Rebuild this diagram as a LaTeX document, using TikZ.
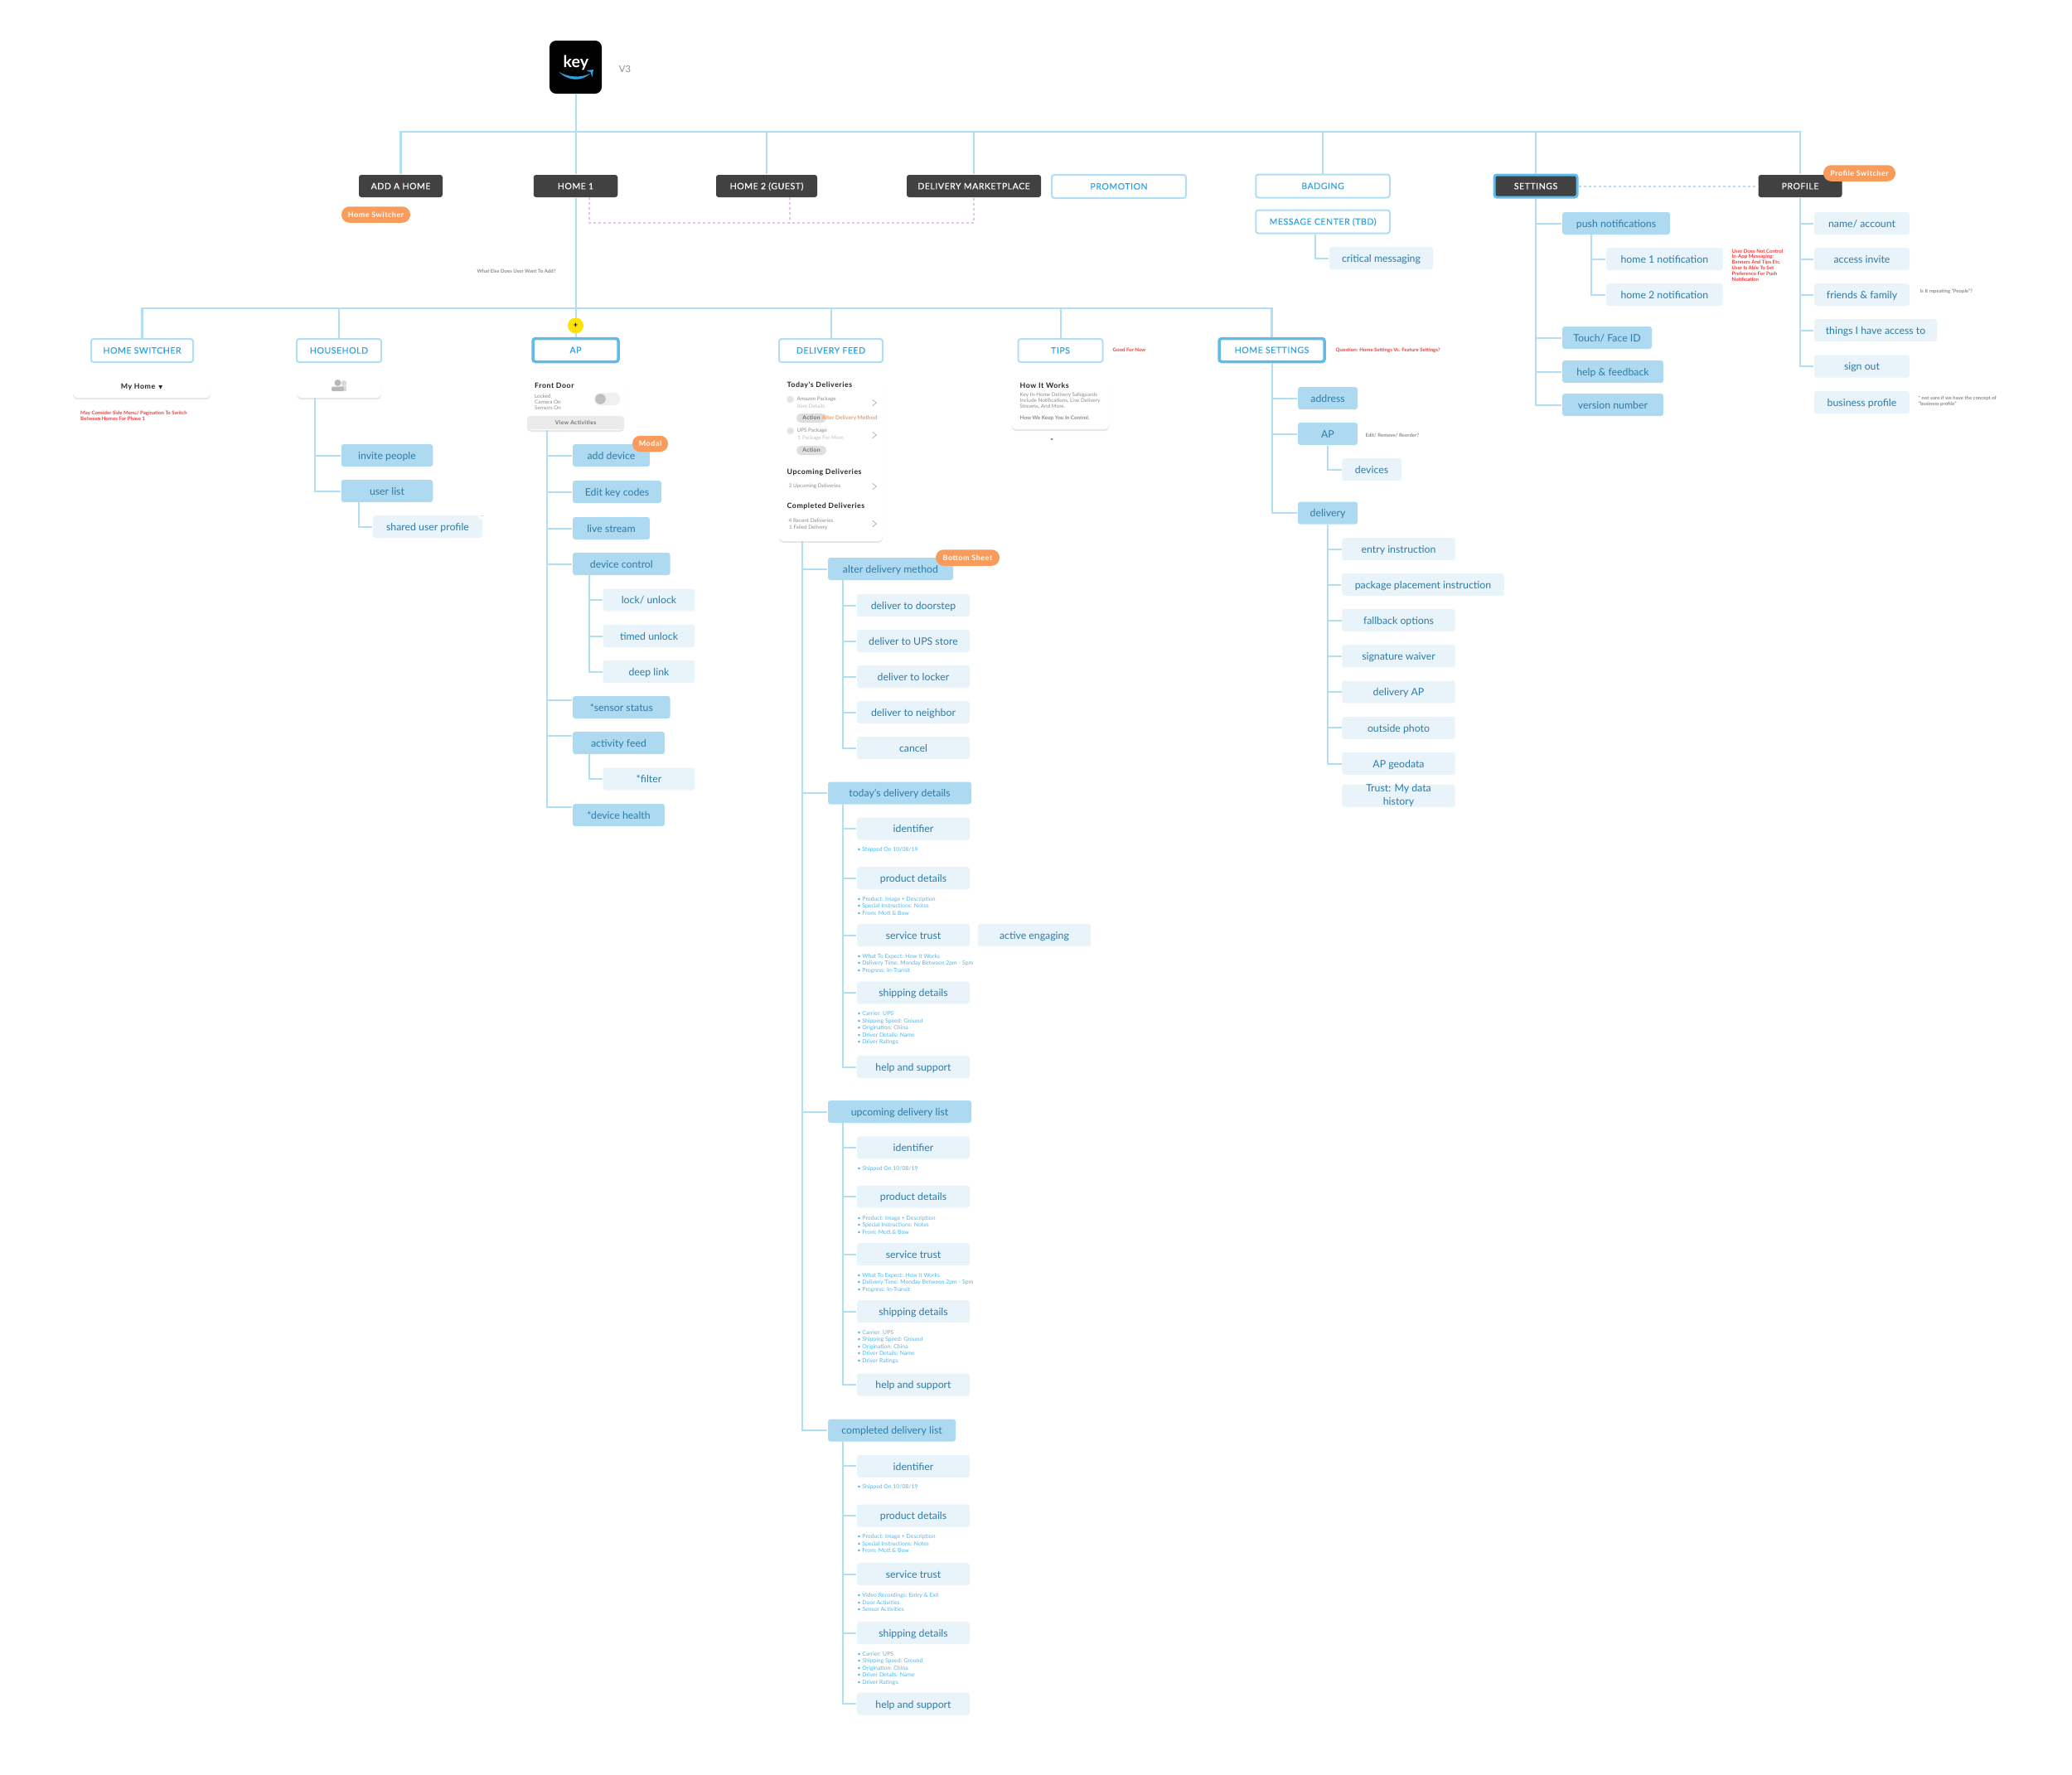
\documentclass[tikz,border=0pt]{standalone}
\usepackage{fontspec}
\usepackage{xcolor}
\setmainfont{Lato}
\newfontfamily\capfont[LetterSpace=5,FakeBold=0.25]{Lato}
\newfontfamily\headfont[LetterSpace=6]{Lato}
\usetikzlibrary{shapes,arrows,positioning,fit,calc,shapes.geometric,shadows}
\definecolor{darkgrey}{HTML}{414141}
\definecolor{midblue}{HTML}{AEDAF1}
\definecolor{paleblue}{HTML}{E8F3FA}
\definecolor{linkblue}{HTML}{B2DEF4}
\definecolor{selblue}{HTML}{62BAE6}
\definecolor{labelblue}{HTML}{2F7BA6}
\definecolor{capblue}{HTML}{2FA3E0}
\definecolor{bulletblue}{HTML}{4DB6EC}
\definecolor{pillorange}{HTML}{F89C5E}
\definecolor{notered}{HTML}{F83A3A}
\definecolor{notegrey}{HTML}{8C8C8C}
\definecolor{linkpurple}{HTML}{E5C3EC}

\begin{document}
\begin{tikzpicture}[
    wd/.style={minimum width=#1cm},
    darkbox/.style={rectangle, fill=darkgrey, text=white, rounded corners=0.03cm, minimum height=0.27cm, inner sep=0pt, text height=2.2pt, text depth=0pt, font=\capfont\fontsize{3}{3.6}\selectfont},
    outbox/.style={rectangle, draw=linkblue, line width=0.02cm, fill=white, text=capblue, rounded corners=0.03cm, minimum height=0.28cm, inner sep=0pt, text height=2.1pt, text depth=0pt, font=\capfont\fontsize{3}{3.6}\selectfont},
    selbox/.style={outbox, draw=selblue, line width=0.035cm},
    midbox/.style={rectangle, fill=midblue, text=labelblue, rounded corners=0.03cm, minimum height=0.27cm, inner sep=0pt, text height=3pt, text depth=0.2pt, font=\fontsize{3.5}{4.2}\selectfont},
    palebox/.style={midbox, fill=paleblue},
    pill/.style={rectangle, fill=pillorange, text=white, rounded corners=0.095cm, minimum height=0.195cm, inner sep=0pt, text height=1.7pt, text depth=0pt, font=\headfont\bfseries\fontsize{2.55}{3}\selectfont},
    card/.style={rectangle, fill=white, rounded corners=0.05cm, inner sep=0pt, drop shadow={shadow xshift=0cm, shadow yshift=-0.02cm, opacity=0.1, fill=black}},
    cardhead/.style={anchor=west, inner sep=0pt, text=black!85, font=\headfont\bfseries\fontsize{2.5}{3}\selectfont},
    cardtext/.style={anchor=west, inner sep=0pt, align=left, text=notegrey, font=\fontsize{1.8}{2}\selectfont},
    cardfaint/.style={cardtext, text=black!25},
    actionpill/.style={rectangle, fill=black!13, text=black!55, rounded corners=0.05cm, minimum width=0.36cm, minimum height=0.11cm, inner sep=0pt, font=\headfont\bfseries\fontsize{1.9}{2.2}\selectfont},
    dotgrey/.style={circle, fill=black!10, minimum size=0.085cm, inner sep=0pt},
    chevron/.style={draw=black!25, line width=0.01cm},
    bullets/.style={anchor=west, inner sep=0pt, align=left, text=bulletblue, font=\fontsize{1.95}{2.42}\selectfont},
    rednote/.style={anchor=west, inner sep=0pt, align=left, text=notered, font=\bfseries\fontsize{1.73}{1.95}\selectfont},
    greynote/.style={anchor=west, inner sep=0pt, align=left, text=notegrey, font=\bfseries\fontsize{1.7}{1.95}\selectfont},
    conn/.style={draw=linkblue, line width=0.02cm},
    busline/.style={conn, line width=0.025cm},
    linkdash/.style={draw=linkpurple, line width=0.018cm, dash pattern=on 0.03cm off 0.03cm},
    settingsdash/.style={draw=linkblue, line width=0.02cm, dash pattern=on 0.03cm off 0.03cm}
]
\useasboundingbox (0,0) rectangle (25,-21.41);

% App icon
\node[rectangle, fill=black, rounded corners=0.08cm, minimum width=0.63cm, minimum height=0.64cm, inner sep=0pt] (appicon) at (6.945,-0.81) {};
\node[text=white, inner sep=0pt, font=\bfseries\fontsize{5.6}{6}\selectfont] (appname) at (6.95,-0.755) {key};
\fill[capblue] (6.74,-0.865) .. controls (6.86,-0.985) and (7.02,-0.985) .. (7.125,-0.885) .. controls (7.02,-0.94) and (6.86,-0.94) .. cycle;
\fill[capblue] (7.07,-0.85) -- (7.16,-0.84) -- (7.145,-0.93) -- (7.125,-0.87) -- cycle;
\node[text=notegrey, inner sep=0pt, font=\fontsize{3.2}{3.6}\selectfont] (version) at (7.54,-0.83) {V3};

% Top row
\node[darkbox, wd=1.01] (addhome) at (4.835,-2.245) {ADD A HOME};
\node[darkbox, wd=1.015] (homeone) at (6.945,-2.245) {HOME 1};
\node[darkbox, wd=1.22] (hometwo) at (9.25,-2.245) {HOME 2 (GUEST)};
\node[darkbox, wd=1.62] (marketplace) at (11.75,-2.245) {DELIVERY MARKETPLACE};
\node[outbox, wd=1.62] (promotion) at (13.5,-2.25) {PROMOTION};
\node[outbox, wd=1.615] (badging) at (15.96,-2.245) {BADGING};
\node[outbox, wd=1.615] (messagecenter) at (15.96,-2.675) {MESSAGE CENTER (TBD)};
\node[palebox, wd=1.25] (critical) at (16.665,-3.115) {critical messaging};
\node[darkbox, wd=1.0, draw=selblue, line width=0.03cm] (settings) at (18.53,-2.245) {SETTINGS};
\node[darkbox, wd=1.01] (profile) at (21.72,-2.245) {PROFILE};
\node[greynote] (addnote) at (5.75,-3.27) {What Else Does User Want To Add?};

% Settings
\node[midbox, wd=1.30] (push) at (19.5,-2.695) {push notifications};
\node[palebox, wd=1.406] (homeonenotif) at (20.083,-3.125) {home 1 notification};
\node[palebox, wd=1.406] (hometwonotif) at (20.083,-3.555) {home 2 notification};
\node[midbox, wd=1.08] (touchid) at (19.39,-4.075) {Touch/ Face ID};
\node[midbox, wd=1.22] (feedback) at (19.46,-4.485) {help \& feedback};
\node[midbox, wd=1.22] (versionnum) at (19.46,-4.885) {version number};
\node[rednote] (pushnote) at (20.89,-3.20) {User Does Not Control\\In-App Messaging:\\Banners And Tips Etc.\\User Is Able To Set\\Preference For Push\\Notification};

% Profile
\node[palebox, wd=1.15] (account) at (22.465,-2.695) {name/ account};
\node[palebox, wd=1.15] (invite) at (22.465,-3.125) {access invite};
\node[palebox, wd=1.15] (family) at (22.465,-3.555) {friends \& family};
\node[palebox, wd=1.48] (things) at (22.63,-3.985) {things I have access to};
\node[palebox, wd=1.15] (signout) at (22.465,-4.42) {sign out};
\node[palebox, wd=1.15] (business) at (22.465,-4.855) {business profile};
\node[greynote] (familynote) at (23.16,-3.52) {Is It repeating "People"?};
\node[greynote] (businessnote) at (23.14,-4.84) {* not sure if we have the concept of\\"business profile"};

% Second row
\node[outbox, wd=1.23] (homeswitcher) at (1.715,-4.23) {HOME SWITCHER};
\node[outbox, wd=1.02] (household) at (4.09,-4.23) {HOUSEHOLD};
\node[selbox, wd=1.03] (apbox) at (6.945,-4.225) {AP};
\node[outbox, wd=1.25] (deliveryfeed) at (10.025,-4.23) {DELIVERY FEED};
\node[outbox, wd=1.02] (tips) at (12.795,-4.23) {TIPS};
\node[selbox, wd=1.27] (homesettings) at (15.345,-4.225) {HOME SETTINGS};
\node[rednote] (tipsnote) at (13.42,-4.225) {Good For Now};
\node[rednote] (settingsnote) at (16.11,-4.225) {Question: Home Settings Vs. Feature Settings?};

% Home switcher
\node[card, minimum width=1.66cm, minimum height=0.26cm, font=\headfont\bfseries\fontsize{2.5}{3}\selectfont, text=black!85] (myhome) at (1.71,-4.67) {My Home \,{\fontspec{DejaVu Sans}\fontsize{1.8}{2}\selectfont ▼}};
\node[rednote] (switchnote) at (0.965,-5.015) {May Consider Side Menu/ Pagination To Switch\\Between Homes For Phase 1};

% Household
\node[card, minimum width=1.02cm, minimum height=0.26cm] (householdcard) at (4.09,-4.67) {};
\fill[black!15] (4.15,-4.625) circle (0.035);
\fill[black!15] (4.10,-4.72) rectangle (4.18,-4.655);
\fill[black!28] (4.075,-4.62) circle (0.04);
\fill[black!28, rounded corners=0.015cm] (4.00,-4.72) rectangle (4.15,-4.665);
\node[midbox, wd=1.105] (inviteppl) at (4.67,-5.495) {invite people};
\node[midbox, wd=1.105] (userlist) at (4.67,-5.925) {user list};
\node[palebox, wd=1.32] (sharedprofile) at (5.16,-6.355) {shared user profile};
\node[circle, fill=white, minimum size=0.1cm, inner sep=0pt, text=notegrey, font=\fontsize{1.6}{1.8}\selectfont] (sharedmore) at (5.82,-6.23) {...};

% AP
\node[card, minimum width=1.17cm, minimum height=0.64cm] (apcard) at (6.945,-4.87) {};
\node[rectangle, fill=black!8, rounded corners=0.04cm, minimum width=1.17cm, minimum height=0.16cm, inner sep=0pt, text=black!55, font=\headfont\bfseries\fontsize{1.9}{2.2}\selectfont] (apfooter) at (6.945,-5.10) {View Activities};
\node[cardhead] (frontdoor) at (6.445,-4.65) {Front Door};
\node[cardtext] (aptext) at (6.445,-4.85) {Locked\\Camera On\\Sensors On};
\node[rectangle, fill=black!6, rounded corners=0.07cm, minimum width=0.31cm, minimum height=0.15cm, inner sep=0pt] (toggle) at (7.325,-4.815) {};
\node[circle, fill=black!25, minimum size=0.125cm, inner sep=0pt] (toggleknob) at (7.245,-4.815) {};
\node[midbox, wd=0.93] (adddevice) at (7.375,-5.495) {add device};
\node[midbox, wd=1.07] (keycodes) at (7.445,-5.935) {Edit key codes};
\node[midbox, wd=0.93] (livestream) at (7.375,-6.375) {live stream};
\node[midbox, wd=1.177] (devicecontrol) at (7.4985,-6.805) {device control};
\node[palebox, wd=1.106] (lockunlock) at (7.83,-7.24) {lock/ unlock};
\node[palebox, wd=1.106] (timedunlock) at (7.83,-7.675) {timed unlock};
\node[palebox, wd=1.106] (deeplink) at (7.83,-8.105) {deep link};
\node[midbox, wd=1.177] (sensorstatus) at (7.4985,-8.535) {*sensor status};
\node[midbox, wd=1.11] (activityfeed) at (7.465,-8.965) {activity feed};
\node[palebox, wd=1.106] (filter) at (7.83,-9.40) {*filter};
\node[midbox, wd=1.11] (devicehealth) at (7.465,-9.835) {*device health};

% Delivery feed card
\node[card, minimum width=1.25cm, minimum height=1.99cm] (feedcard) at (10.025,-5.535) {};
\node[cardhead] (todayhead) at (9.49,-4.65) {Today's Deliveries};
\node[dotgrey] (amazondot) at (9.535,-4.82) {};
\node[cardtext] (amazontext) at (9.61,-4.815) {Amazon Package};
\node[cardfaint] (itemtext) at (9.61,-4.90) {Item Details};
\node[actionpill] (actionone) at (9.79,-5.045) {Action};
\node[anchor=west, inner sep=0pt, text=pillorange, font=\bfseries\fontsize{1.9}{2.2}\selectfont] (alternote) at (9.91,-5.045) {Alter Delivery Method};
\node[dotgrey] (upsdot) at (9.535,-5.20) {};
\node[cardtext] (upstext) at (9.61,-5.20) {UPS Package};
\node[cardfaint] (momtext) at (9.62,-5.29) {1 Package For Mom};
\node[actionpill] (actiontwo) at (9.79,-5.435) {Action};
\node[cardhead] (upcominghead) at (9.49,-5.70) {Upcoming Deliveries};
\node[cardtext] (upcomingtext) at (9.51,-5.87) {3 Upcoming Deliveries};
\node[cardhead] (completedhead) at (9.49,-6.11) {Completed Deliveries};
\node[cardtext] (recenttext) at (9.51,-6.28) {4 Recent Deliveries};
\node[cardtext] (failedtext) at (9.515,-6.37) {1 Failed Delivery};
\draw[chevron] (10.527,-4.823) -- ++(0.046,-0.037) -- ++(-0.046,-0.037);
\draw[chevron] (10.527,-5.213) -- ++(0.046,-0.037) -- ++(-0.046,-0.037);
\draw[chevron] (10.527,-5.833) -- ++(0.046,-0.037) -- ++(-0.046,-0.037);
\draw[chevron] (10.527,-6.283) -- ++(0.046,-0.037) -- ++(-0.046,-0.037);

% Alter delivery method
\node[midbox, wd=1.51] (alter) at (10.745,-6.865) {alter delivery method};
\node[palebox, wd=1.36] (doorstep) at (11.02,-7.305) {deliver to doorstep};
\node[palebox, wd=1.36] (upsstore) at (11.02,-7.735) {deliver to UPS store};
\node[palebox, wd=1.36] (locker) at (11.02,-8.165) {deliver to locker};
\node[palebox, wd=1.36] (neighbor) at (11.02,-8.595) {deliver to neighbor};
\node[palebox, wd=1.36] (cancel) at (11.02,-9.025) {cancel};

% Today's delivery details
\node[midbox, wd=1.73] (today) at (10.855,-9.57) {today's delivery details};
\node[palebox, wd=1.36] (todayid) at (11.02,-10.00) {identifier};
\node[bullets] (todayidnote) at (10.34,-10.257) {• Shipped On 10/08/19};
\node[palebox, wd=1.36] (todayproduct) at (11.02,-10.597) {product details};
\node[bullets] (todayproductnote) at (10.34,-10.933) {• Product: Image + Description\\• Special Instructions: Notes\\• From: Mott \& Bow};
\node[palebox, wd=1.36] (todaytrust) at (11.02,-11.287) {service trust};
\node[palebox, wd=1.363] (activeengaging) at (12.48,-11.287) {active engaging};
\node[bullets] (todaytrustnote) at (10.34,-11.63) {• What To Expect: How It Works\\• Delivery Time: Monday Between 2pm - 5pm\\• Progress: In-Transit};
\node[palebox, wd=1.36] (todayship) at (11.02,-11.98) {shipping details};
\node[bullets] (todayshipnote) at (10.34,-12.41) {• Carrier: UPS\\• Shipping Speed: Ground\\• Origination: China\\• Driver Details: Name\\• Driver Ratings:};
\node[palebox, wd=1.36] (todayhelp) at (11.02,-12.875) {help and support};

% Upcoming delivery list
\node[midbox, wd=1.73] (upcoming) at (10.855,-13.415) {upcoming delivery list};
\node[palebox, wd=1.36] (upcomingid) at (11.02,-13.848) {identifier};
\node[bullets] (upcomingidnote) at (10.34,-14.103) {• Shipped On 10/08/19};
\node[palebox, wd=1.36] (upcomingproduct) at (11.02,-14.44) {product details};
\node[bullets] (upcomingproductnote) at (10.34,-14.78) {• Product: Image + Description\\• Special Instructions: Notes\\• From: Mott \& Bow};
\node[palebox, wd=1.36] (upcomingtrust) at (11.02,-15.137) {service trust};
\node[bullets] (upcomingtrustnote) at (10.34,-15.477) {• What To Expect: How It Works\\• Delivery Time: Monday Between 2pm - 5pm\\• Progress: In-Transit};
\node[palebox, wd=1.36] (upcomingship) at (11.02,-15.827) {shipping details};
\node[bullets] (upcomingshipnote) at (10.34,-16.253) {• Carrier: UPS\\• Shipping Speed: Ground\\• Origination: China\\• Driver Details: Name\\• Driver Ratings:};
\node[palebox, wd=1.36] (upcominghelp) at (11.02,-16.71) {help and support};

% Completed delivery list
\node[midbox, wd=1.54] (completed) at (10.76,-17.26) {completed delivery list};
\node[palebox, wd=1.36] (completedid) at (11.02,-17.693) {identifier};
\node[bullets] (completedidnote) at (10.34,-17.948) {• Shipped On 10/08/19};
\node[palebox, wd=1.36] (completedproduct) at (11.02,-18.29) {product details};
\node[bullets] (completedproductnote) at (10.34,-18.627) {• Product: Image + Description\\• Special Instructions: Notes\\• From: Mott \& Bow};
\node[palebox, wd=1.36] (completedtrust) at (11.02,-18.997) {service trust};
\node[bullets] (completedtrustnote) at (10.34,-19.337) {• Video Recordings: Entry \& Exit\\• Door Activities\\• Sensor Activities};
\node[palebox, wd=1.36] (completedship) at (11.02,-19.707) {shipping details};
\node[bullets] (completedshipnote) at (10.34,-20.133) {• Carrier: UPS\\• Shipping Speed: Ground\\• Origination: China\\• Driver Details: Name\\• Driver Ratings:};
\node[palebox, wd=1.36] (completedhelp) at (11.02,-20.562) {help and support};

% Tips card
\node[card, minimum width=1.17cm, minimum height=0.64cm] (howcard) at (12.795,-4.86) {};
\node[cardhead] (howhead) at (12.30,-4.65) {How It Works};
\node[cardtext] (howtext) at (12.30,-4.84) {Key In-Home Delivery Safeguards\\Include Notifications, Live Delivery\\Streams, And More.};
\node[cardtext, font=\bfseries\fontsize{1.8}{2}\selectfont] (howbold) at (12.30,-5.045) {How We Keep You In Control.};
\node[circle, fill=notegrey, minimum size=0.03cm, inner sep=0pt] (howdot) at (12.69,-5.30) {};

% Home settings
\node[midbox, wd=0.72] (address) at (16.02,-4.805) {address};
\node[midbox, wd=0.72] (apsetting) at (16.02,-5.235) {AP};
\node[greynote] (apnote) at (16.47,-5.25) {Edit/ Remove/ Reorder?};
\node[palebox, wd=0.715] (devices) at (16.55,-5.665) {devices};
\node[midbox, wd=0.72] (delivery) at (16.02,-6.19) {delivery};
\node[palebox, wd=1.364] (entry) at (16.875,-6.625) {entry instruction};
\node[palebox, wd=1.96] (placement) at (17.17,-7.055) {package placement instruction};
\node[palebox, wd=1.364] (fallback) at (16.875,-7.485) {fallback options};
\node[palebox, wd=1.364] (signature) at (16.875,-7.917) {signature waiver};
\node[palebox, wd=1.364] (deliveryap) at (16.875,-8.35) {delivery AP};
\node[palebox, wd=1.364] (outsidephoto) at (16.875,-8.783) {outside photo};
\node[palebox, wd=1.364] (geodata) at (16.875,-9.215) {AP geodata};
\node[palebox, wd=1.364, align=center, text height=6.9pt, text depth=0.4pt, font=\fontsize{3.5}{4.75}\selectfont] (trustdata) at (16.875,-9.603) {Trust: My data\\history};

% Free ends
\coordinate (topbus) at (6.945,-1.59);
\coordinate (lowbus) at (6.945,-3.72);
\coordinate (linkbase) at (9.53,-2.69);
\coordinate (linkhome) at (7.11,-2.38);
\coordinate (linkguest) at (9.53,-2.38);
\coordinate (messagetrunk) at (15.87,-2.82);
\coordinate (pushtrunk) at (19.20,-2.83);
\coordinate (householdtrunk) at (3.80,-4.80);
\coordinate (usertrunk) at (4.33,-6.06);
\coordinate (aptrunk) at (6.597,-5.19);
\coordinate (controltrunk) at (7.107,-6.94);
\coordinate (activitytrunk) at (7.107,-9.10);
\coordinate (feedtrunk) at (9.68,-6.53);
\coordinate (altertrunk) at (10.17,-7.00);
\coordinate (todaytrunk) at (10.17,-9.705);
\coordinate (upcomingtrunk) at (10.17,-13.55);
\coordinate (completedtrunk) at (10.17,-17.395);

% Connections
\draw[conn] (appicon) -- (homeone);
\draw[busline] (addhome.north) |- (topbus);
\draw[busline] (profile.north) |- (topbus);
\draw[conn] (hometwo.north) -- (hometwo.north |- topbus);
\draw[conn] (marketplace.north) -- (marketplace.north |- topbus);
\draw[conn] (badging.north) -- (badging.north |- topbus);
\draw[conn] (settings.north) -- (settings.north |- topbus);
\draw[linkdash] (linkhome) |- (linkbase -| marketplace) -- (marketplace.south);
\draw[linkdash] (linkguest) -- (linkbase);
\draw[settingsdash] (settings) -- (profile);
\draw[conn] (homeone) -- (apbox);
\draw[busline] (homeswitcher.north) |- (lowbus);
\draw[busline] (homesettings.north) |- (lowbus);
\draw[conn] (household.north) -- (household.north |- lowbus);
\draw[conn] (deliveryfeed.north) -- (deliveryfeed.north |- lowbus);
\draw[conn] (tips.north) -- (tips.north |- lowbus);
\draw[conn] (messagecenter.south -| messagetrunk) |- (critical.west);
\draw[conn] (settings.south) |- (push.west);
\draw[conn] (settings.south) |- (touchid.west);
\draw[conn] (settings.south) |- (feedback.west);
\draw[conn] (settings.south) |- (versionnum.west);
\draw[conn] (pushtrunk) |- (homeonenotif.west);
\draw[conn] (pushtrunk) |- (hometwonotif.west);
\draw[conn] (profile.south) |- (account.west);
\draw[conn] (profile.south) |- (invite.west);
\draw[conn] (profile.south) |- (family.west);
\draw[conn] (profile.south) |- (things.west);
\draw[conn] (profile.south) |- (signout.west);
\draw[conn] (householdtrunk) |- (inviteppl.west);
\draw[conn] (householdtrunk) |- (userlist.west);
\draw[conn] (usertrunk) |- (sharedprofile.west);
\draw[conn] (aptrunk) |- (adddevice.west);
\draw[conn] (aptrunk) |- (keycodes.west);
\draw[conn] (aptrunk) |- (livestream.west);
\draw[conn] (aptrunk) |- (devicecontrol.west);
\draw[conn] (aptrunk) |- ([yshift=0.085cm]sensorstatus.west);
\draw[conn] (aptrunk) |- ([yshift=0.085cm]activityfeed.west);
\draw[conn] (aptrunk) |- ([yshift=0.095cm]devicehealth.west);
\draw[conn] (controltrunk) |- (lockunlock.west);
\draw[conn] (controltrunk) |- (timedunlock.west);
\draw[conn] (controltrunk) |- (deeplink.west);
\draw[conn] (activitytrunk) |- (filter.west);
\draw[conn] (feedtrunk) |- (alter.west);
\draw[conn] (feedtrunk) |- (today.west);
\draw[conn] (feedtrunk) |- (upcoming.west);
\draw[conn] (feedtrunk) |- (completed.west);
\draw[conn] (altertrunk) |- (doorstep.west);
\draw[conn] (altertrunk) |- (upsstore.west);
\draw[conn] (altertrunk) |- (locker.west);
\draw[conn] (altertrunk) |- (neighbor.west);
\draw[conn] (altertrunk) |- (cancel.west);
\draw[conn] (todaytrunk) |- (todayid.west);
\draw[conn] (todaytrunk) |- (todayproduct.west);
\draw[conn] (todaytrunk) |- (todaytrust.west);
\draw[conn] (todaytrunk) |- (todayship.west);
\draw[conn] (todaytrunk) |- (todayhelp.west);
\draw[conn] (upcomingtrunk) |- (upcomingid.west);
\draw[conn] (upcomingtrunk) |- (upcomingproduct.west);
\draw[conn] (upcomingtrunk) |- (upcomingtrust.west);
\draw[conn] (upcomingtrunk) |- (upcomingship.west);
\draw[conn] (upcomingtrunk) |- (upcominghelp.west);
\draw[conn] (completedtrunk) |- (completedid.west);
\draw[conn] (completedtrunk) |- (completedproduct.west);
\draw[conn] (completedtrunk) |- (completedtrust.west);
\draw[conn] (completedtrunk) |- (completedship.west);
\draw[conn] (completedtrunk) |- (completedhelp.west);
\draw[conn] (homesettings.south) |- (address.west);
\draw[conn] (homesettings.south) |- (apsetting.west);
\draw[conn] (homesettings.south) |- (delivery.west);
\draw[conn] (apsetting.south) |- (devices.west);
\draw[conn] (delivery.south) |- (entry.west);
\draw[conn] (delivery.south) |- (placement.west);
\draw[conn] (delivery.south) |- (fallback.west);
\draw[conn] (delivery.south) |- (signature.west);
\draw[conn] (delivery.south) |- (deliveryap.west);
\draw[conn] (delivery.south) |- (outsidephoto.west);
\draw[conn] (delivery.south) |- (geodata.west);

% Badges
\node[pill, wd=0.83] (homebadge) at (4.535,-2.59) {Home Switcher};
\node[pill, wd=0.87] (profilebadge) at (22.435,-2.09) {Profile Switcher};
\node[pill, wd=0.43] (modalbadge) at (7.845,-5.355) {Modal};
\node[pill, wd=0.77] (sheetbadge) at (11.675,-6.73) {Bottom Sheet};
\node[circle, fill=yellow!85!orange, minimum size=0.19cm, inner sep=0pt, text=black, font=\bfseries\fontsize{2.6}{3}\selectfont] (addap) at (6.945,-3.93) {+};

\end{tikzpicture}
\end{document}
